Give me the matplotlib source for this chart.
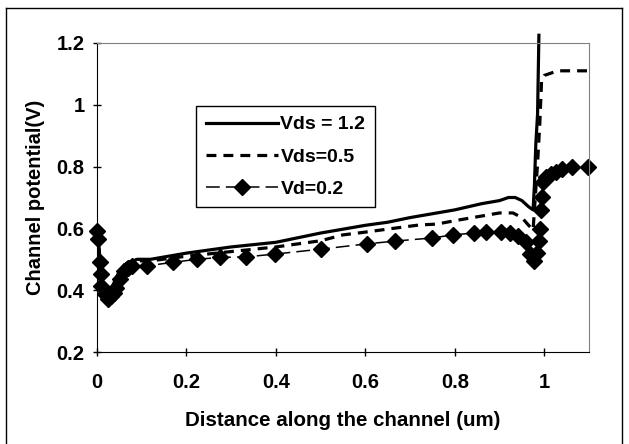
import matplotlib
matplotlib.use("Agg")
import matplotlib.pyplot as plt
from matplotlib.lines import Line2D

plt.rcParams['font.family'] = ['Liberation Sans', 'DejaVu Sans']
plt.rcParams['font.weight'] = 'bold'

# Vds = 1.2 (solid)
x_12 = [0, 0.003, 0.008, 0.015, 0.022, 0.03, 0.04, 0.05, 0.06, 0.07, 0.09, 0.12,
        0.2, 0.3, 0.4, 0.5, 0.6, 0.65, 0.7, 0.8, 0.86, 0.9, 0.92, 0.935, 0.95,
        0.965, 0.975, 0.978, 0.981, 0.985, 0.988]
y_12 = [0.59, 0.57, 0.47, 0.40, 0.38, 0.40, 0.43, 0.46, 0.48, 0.49, 0.50, 0.50,
        0.52, 0.54, 0.555, 0.585, 0.61, 0.62, 0.635, 0.66, 0.68, 0.69, 0.70, 0.70,
        0.69, 0.67, 0.66, 0.74, 0.87, 0.97, 1.225]

# Vds = 0.5 (short dashes)
x_05 = [0, 0.003, 0.008, 0.015, 0.022, 0.03, 0.04, 0.05, 0.06, 0.07, 0.09, 0.12,
        0.2, 0.3, 0.4, 0.5, 0.55, 0.6, 0.667, 0.72, 0.76, 0.8, 0.86, 0.9, 0.93,
        0.95, 0.965, 0.975, 0.985, 0.99, 0.994, 1.0, 1.01, 1.03, 1.06, 1.11]
y_05 = [0.59, 0.56, 0.46, 0.40, 0.38, 0.40, 0.43, 0.46, 0.48, 0.49, 0.495, 0.495,
        0.51, 0.525, 0.54, 0.56, 0.579, 0.588, 0.601, 0.611, 0.614, 0.625, 0.64,
        0.65, 0.65, 0.635, 0.61, 0.595, 0.81, 0.94, 1.08, 1.095, 1.10, 1.11, 1.11, 1.11]

# Vd = 0.2 (dashed with diamonds)
x_02 = [0, 0.003, 0.006, 0.008, 0.01, 0.018, 0.025, 0.031, 0.037, 0.043, 0.052,
        0.061, 0.07, 0.079, 0.112, 0.169, 0.223, 0.275, 0.334, 0.399, 0.501, 0.604,
        0.667, 0.749, 0.796, 0.842, 0.869, 0.903, 0.923, 0.941, 0.959, 0.968, 0.977,
        0.984, 0.988, 0.991, 0.993, 0.995, 0.997, 1.004, 1.014, 1.026, 1.04, 1.062, 1.098]
y_02 = [0.593, 0.566, 0.49, 0.452, 0.414, 0.387, 0.37, 0.38, 0.39, 0.408, 0.435,
        0.462, 0.473, 0.479, 0.479, 0.49, 0.50, 0.506, 0.508, 0.517, 0.533, 0.55,
        0.559, 0.569, 0.579, 0.585, 0.587, 0.587, 0.585, 0.575, 0.555, 0.517, 0.495,
        0.522, 0.56, 0.598, 0.658, 0.70, 0.75, 0.766, 0.777, 0.782, 0.793, 0.799, 0.80]

labels = ["Vds = 1.2", "Vds=0.5", "Vd=0.2"]
x_ticks = [0, 0.2, 0.4, 0.6, 0.8, 1]
x_ticklabels = ["0", "0.2", "0.4", "0.6", "0.8", "1"]
y_ticks = [0.2, 0.4, 0.6, 0.8, 1.0, 1.2]
y_ticklabels = ["0.2", "0.4", "0.6", "0.8", "1", "1.2"]

fig = plt.figure(figsize=(6.29, 4.44), dpi=100)
ax = fig.add_axes([97/629, (444-352)/444, (589-97)/629, (352-43)/444])

# outer border
fig.add_artist(Line2D([6/629, 6/629], [0, 1-8/444], transform=fig.transFigure, color='black', lw=1))
fig.add_artist(Line2D([6/629, 622/629], [1-8/444, 1-8/444], transform=fig.transFigure, color='black', lw=1))
fig.add_artist(Line2D([622/629, 622/629], [0, 1-8/444], transform=fig.transFigure, color='black', lw=1))

l1, = ax.plot(x_12, y_12, color='black', lw=2.3, clip_on=False, label=labels[0])
l2, = ax.plot(x_05, y_05, color='black', lw=2.3, ls=(0, (3.1, 2.2)), clip_on=False, label=labels[1])
l3, = ax.plot(x_02, y_02, color='black', lw=1.1, ls=(0, (9, 4)), marker='D', markersize=8.5,
              markerfacecolor='black', markeredgecolor='black', clip_on=False, label=labels[2])

ax.set_xlim(0, 1.1)
ax.set_ylim(0.2, 1.2)
ax.set_xticks(x_ticks)
ax.set_xticklabels(x_ticklabels)
ax.set_yticks(y_ticks)
ax.set_yticklabels(y_ticklabels)
ax.tick_params(direction='inout', length=6, width=1, labelsize=14.5)
ax.tick_params(axis='x', pad=12)
ax.tick_params(axis='y', pad=6)
for t in ax.get_xticklabels() + ax.get_yticklabels():
    t.set_fontweight('bold')

ax.spines['left'].set_color('black')
ax.spines['bottom'].set_color('black')
ax.spines['top'].set_color('#808080')
ax.spines['right'].set_color('#808080')

ax.set_xlabel("Distance along the channel (um)", fontsize=14.8, fontweight='bold', labelpad=14)
ax.set_ylabel("Channel potential(V)", fontsize=14.5, fontweight='bold', labelpad=8)

leg = ax.legend(handles=[l1, l2, l3], loc='upper left', bbox_to_anchor=(0.201, 0.796),
                borderaxespad=0, fancybox=False, edgecolor='black', framealpha=1,
                prop={'size': 14, 'weight': 'bold'}, handlelength=3.7, handletextpad=0.15,
                labelspacing=0.75, borderpad=0.5)
leg.get_frame().set_linewidth(1)

fig.savefig("out.png", dpi=100)
